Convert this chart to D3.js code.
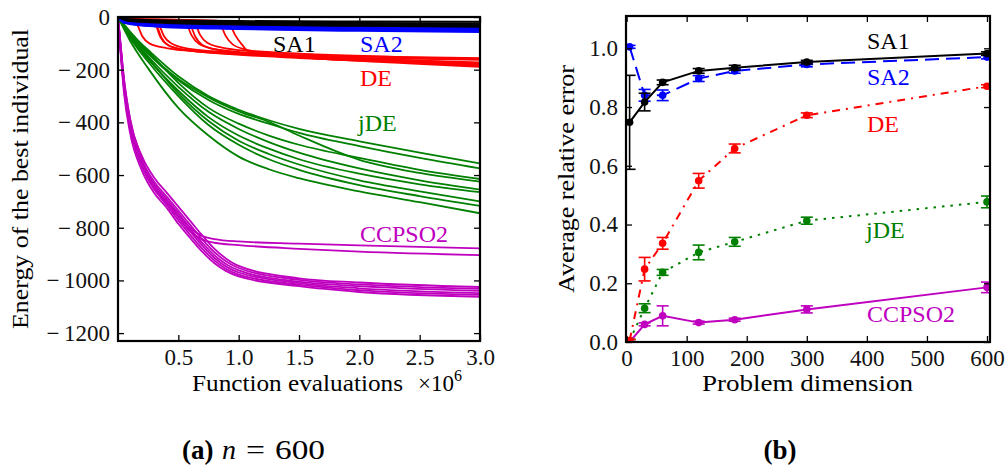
<!DOCTYPE html>
<html>
<head>
<meta charset="utf-8">
<script src="https://cdn.jsdelivr.net/npm/d3@7"></script>
<style>
  body { margin: 0; background: white; }
  svg text { font-family: "Liberation Serif", "DejaVu Serif", serif; }
</style>
</head>
<body>
<div id="chart"></div>
<script>
// ---------- panel (a): convergence runs, x in 10^6 evaluations ----------
const sa1Runs = [
  [[0,0],[0.1,-8],[0.5,-13],[1,-15],[2,-17],[3,-18]],
  [[0,0],[0.1,-10],[0.5,-16],[1,-19],[2,-22],[3,-24]],
  [[0,0],[0.1,-12],[0.5,-18],[1,-22],[2,-26],[3,-28]],
  [[0,0],[0.1,-13],[0.5,-20],[1,-25],[2,-29],[3,-31]],
  [[0,0],[0.1,-15],[0.5,-22],[1,-27],[2,-32],[3,-35]],
  [[0,0],[0.1,-16],[0.5,-24],[1,-29],[2,-34],[3,-37]]
];
const sa2Runs = [
  [[0,0],[0.05,-17],[0.3,-26],[1,-32],[2,-36],[3,-39]],
  [[0,0],[0.05,-18],[0.3,-28],[1,-35],[2,-40],[3,-43]],
  [[0,0],[0.05,-19],[0.3,-30],[1,-38],[2,-43],[3,-47]],
  [[0,0],[0.05,-20],[0.3,-32],[1,-41],[2,-47],[3,-51]],
  [[0,0],[0.05,-21],[0.3,-34],[1,-44],[2,-50],[3,-54]],
  [[0,0],[0.05,-22],[0.3,-36],[1,-46],[2,-53],[3,-57]]
];
const deRuns = [
  [[0,0],[0.05,-10],[0.13,-16],[0.16,-30],[0.2,-72],[0.26,-100],[0.4,-118],[0.7,-132],[1.2,-145],[2,-155],[3,-163]],
  [[0,0],[0.05,-9],[0.28,-16],[0.31,-28],[0.35,-75],[0.41,-105],[0.55,-124],[0.9,-138],[1.5,-152],[2.2,-162],[3,-172]],
  [[0,0],[0.05,-11],[0.29,-18],[0.32,-32],[0.36,-78],[0.42,-108],[0.56,-126],[0.9,-140],[1.5,-156],[2.2,-168],[3,-180]],
  [[0,0],[0.05,-8],[0.31,-15],[0.34,-30],[0.38,-72],[0.44,-100],[0.58,-120],[0.9,-133],[1.5,-145],[2.2,-152],[3,-158]],
  [[0,0],[0.05,-7],[0.54,-14],[0.57,-28],[0.61,-70],[0.67,-102],[0.8,-122],[1.1,-136],[1.6,-150],[2.3,-162],[3,-176]],
  [[0,0],[0.05,-8],[0.57,-15],[0.6,-30],[0.64,-74],[0.7,-106],[0.84,-126],[1.1,-140],[1.6,-156],[2.3,-170],[3,-185]],
  [[0,0],[0.05,-6],[0.61,-13],[0.64,-26],[0.68,-68],[0.74,-98],[0.88,-118],[1.2,-132],[1.7,-143],[2.3,-151],[3,-156]],
  [[0,0],[0.05,-7],[0.82,-14],[0.85,-28],[0.89,-70],[0.95,-104],[1.08,-126],[1.3,-140],[1.8,-155],[2.4,-168],[3,-181]],
  [[0,0],[0.05,-9],[0.9,-16],[0.93,-30],[0.97,-68],[1.03,-106],[1.08,-130],[1.3,-145],[1.8,-162],[2.4,-176],[3,-189]]
];
const jdeRuns = [
  [[0,0],[0.1,-60],[0.25,-125],[0.5,-225],[0.75,-300],[1.0,-352],[1.25,-392],[1.5,-425],[2.0,-472],[2.5,-515],[3.0,-556]],
  [[0,0],[0.1,-65],[0.25,-140],[0.5,-240],[0.75,-315],[1.0,-368],[1.25,-405],[1.5,-440],[2.0,-490],[2.5,-535],[3.0,-575]],
  [[0,0],[0.1,-55],[0.25,-130],[0.5,-250],[0.75,-345],[1.0,-405],[1.25,-450],[1.5,-485],[2.0,-535],[2.5,-580],[3.0,-615]],
  [[0,0],[0.1,-60],[0.25,-135],[0.5,-235],[0.75,-305],[1.0,-358],[1.25,-398],[1.5,-450],[2.0,-542],[2.5,-592],[3.0,-625]],
  [[0,0],[0.1,-70],[0.25,-150],[0.5,-265],[0.75,-360],[1.0,-425],[1.25,-475],[1.5,-515],[2.0,-575],[2.5,-620],[3.0,-655]],
  [[0,0],[0.1,-75],[0.25,-160],[0.5,-280],[0.75,-380],[1.0,-450],[1.25,-500],[1.5,-540],[2.0,-595],[2.5,-635],[3.0,-665]],
  [[0,0],[0.1,-70],[0.25,-155],[0.5,-290],[0.75,-395],[1.0,-470],[1.25,-520],[1.5,-560],[2.0,-620],[2.5,-662],[3.0,-700]],
  [[0,0],[0.1,-80],[0.25,-170],[0.5,-300],[0.75,-410],[1.0,-485],[1.25,-540],[1.5,-580],[2.0,-638],[2.5,-680],[3.0,-717]],
  [[0,0],[0.1,-90],[0.25,-195],[0.5,-345],[0.75,-450],[1.0,-530],[1.25,-578],[1.5,-612],[2.0,-662],[2.5,-703],[3.0,-745]]
];
const ccpso2Runs = [
  [[0,0],[0.02,-110],[0.05,-260],[0.1,-410],[0.2,-555],[0.3,-635],[0.4,-690],[0.5,-745],[0.6,-800],[0.7,-832],[0.8,-843],[1.0,-852],[1.5,-860],[2.0,-867],[3.0,-878]],
  [[0,0],[0.02,-118],[0.05,-270],[0.1,-420],[0.2,-565],[0.3,-648],[0.4,-703],[0.5,-760],[0.6,-815],[0.7,-845],[0.8,-857],[1.0,-866],[1.5,-880],[2.0,-891],[3.0,-904]],
  [[0,0],[0.02,-100],[0.05,-240],[0.1,-390],[0.2,-530],[0.3,-610],[0.4,-665],[0.5,-720],[0.6,-775],[0.7,-830],[0.8,-880],[1.0,-945],[1.5,-992],[2.0,-1008],[3.0,-1025]],
  [[0,0],[0.02,-110],[0.05,-255],[0.1,-405],[0.2,-545],[0.3,-625],[0.4,-680],[0.5,-735],[0.6,-790],[0.7,-845],[0.8,-893],[1.0,-953],[1.5,-998],[2.0,-1015],[3.0,-1032]],
  [[0,0],[0.02,-105],[0.05,-250],[0.1,-400],[0.2,-555],[0.3,-640],[0.4,-695],[0.5,-750],[0.6,-805],[0.7,-858],[0.8,-905],[1.0,-962],[1.5,-1005],[2.0,-1022],[3.0,-1040]],
  [[0,0],[0.02,-120],[0.05,-275],[0.1,-425],[0.2,-570],[0.3,-655],[0.4,-705],[0.5,-760],[0.6,-815],[0.7,-868],[0.8,-915],[1.0,-970],[1.5,-1010],[2.0,-1030],[3.0,-1048]],
  [[0,0],[0.02,-95],[0.05,-235],[0.1,-385],[0.2,-540],[0.3,-650],[0.4,-712],[0.5,-772],[0.6,-828],[0.7,-880],[0.8,-925],[1.0,-978],[1.5,-1016],[2.0,-1037],[3.0,-1055]],
  [[0,0],[0.02,-125],[0.05,-290],[0.1,-440],[0.2,-585],[0.3,-668],[0.4,-722],[0.5,-785],[0.6,-840],[0.7,-892],[0.8,-935],[1.0,-985],[1.5,-1022],[2.0,-1044],[3.0,-1062]]
];
const leftXTicks = [0.5, 1.0, 1.5, 2.0, 2.5, 3.0];
const leftYTicks = [0, -200, -400, -600, -800, -1000, -1200];

// ---------- panel (b): average relative error vs problem dimension ----------
const dims = [5, 30, 60, 120, 180, 300, 600];
const sa1Err = [0.748, 0.817, 0.884, 0.923, 0.934, 0.953, 0.982];
const sa1Sd = [0.16, 0.03, 0.008, 0.008, 0.008, 0.006, 0.006];
const sa2Err = [1.005, 0.84, 0.84, 0.897, 0.923, 0.945, 0.970];
const sa2Sd = [0.005, 0.02, 0.018, 0.01, 0.008, 0.008, 0.006];
const deErr = [0.005, 0.248, 0.336, 0.549, 0.659, 0.772, 0.871];
const deSd = [0.004, 0.04, 0.02, 0.025, 0.015, 0.008, 0.005];
const jdeErr = [0.005, 0.115, 0.237, 0.305, 0.341, 0.413, 0.477];
const jdeSd = [0.004, 0.015, 0.01, 0.025, 0.015, 0.012, 0.02];
const ccErr = [0.0, 0.060, 0.089, 0.066, 0.076, 0.111, 0.186];
const ccSd = [0.002, 0.005, 0.034, 0.005, 0.005, 0.012, 0.018];
const rightXTicks = [0, 100, 200, 300, 400, 500, 600];
const rightYTicks = [0, 0.2, 0.4, 0.6, 0.8, 1.0];

const w = 1005;
const h = 468;
const svg = d3.select("#chart").append("svg")
  .attr("width", w).attr("height", h)
  .style("background", "white");

function frameAxes(g, x, y, xTicks, yTicks, xFmt, yFmt) {
  const [x0, x1] = x.range();
  const [y0, y1] = y.range();
  const styleAxis = sel => {
    sel.select(".domain").remove();
    sel.selectAll("line").attr("stroke", "#000").attr("stroke-width", 1.3);
    sel.selectAll("text").attr("fill", "#111").style("font-size", "23px")
      .style("font-family", '"Liberation Serif", serif');
  };
  g.append("g").attr("transform", `translate(0,${y0})`)
    .call(d3.axisBottom(x).tickValues(xTicks).tickFormat(xFmt).tickSizeInner(-6).tickSizeOuter(0).tickPadding(8))
    .call(styleAxis);
  g.append("g").attr("transform", `translate(0,${y1})`)
    .call(d3.axisTop(x).tickValues(xTicks).tickFormat("").tickSizeInner(-6).tickSizeOuter(0))
    .call(styleAxis);
  g.append("g").attr("transform", `translate(${x0},0)`)
    .call(d3.axisLeft(y).tickValues(yTicks).tickFormat(yFmt).tickSizeInner(-6).tickSizeOuter(0).tickPadding(8))
    .call(styleAxis);
  g.append("g").attr("transform", `translate(${x1},0)`)
    .call(d3.axisRight(y).tickValues(yTicks).tickFormat("").tickSizeInner(-6).tickSizeOuter(0))
    .call(styleAxis);
  g.append("rect")
    .attr("x", x0).attr("y", y1)
    .attr("width", x1 - x0).attr("height", y0 - y1)
    .attr("fill", "none").attr("stroke", "#000").attr("stroke-width", 2.2);
}

// ---------- panel (a) ----------
const xA = d3.scaleLinear().domain([0, 3]).range([118, 480]);
const yA = d3.scaleLinear().domain([-1230, 0]).range([341, 17]);

svg.append("clipPath").attr("id", "clipA")
  .append("rect").attr("x", 118).attr("y", 17).attr("width", 362).attr("height", 324);

const lineA = d3.line().x(d => xA(d[0])).y(d => yA(d[1])).curve(d3.curveMonotoneX);
const gA = svg.append("g").attr("clip-path", "url(#clipA)");

const groupsA = [
  {runs: ccpso2Runs, color: "#bf00bf"},
  {runs: jdeRuns, color: "#008000"},
  {runs: deRuns, color: "#ff0000"},
  {runs: sa2Runs, color: "#0000ff"},
  {runs: sa1Runs, color: "#000000"}
];
groupsA.forEach(grp => {
  gA.selectAll(null).data(grp.runs).enter().append("path")
    .attr("d", lineA)
    .attr("fill", "none")
    .attr("stroke", grp.color)
    .attr("stroke-width", 1.8);
});

const minusFmt = d => d < 0 ? "\u2212\u2009" + Math.abs(d) : String(d);
frameAxes(svg.append("g"), xA, yA, leftXTicks, leftYTicks, d3.format(".1f"), minusFmt);

const labelsA = [
  {t: "SA1", x: 273, y: 52, c: "#000"},
  {t: "SA2", x: 360, y: 52, c: "#0000ff"},
  {t: "DE", x: 360, y: 86, c: "#ff0000"},
  {t: "jDE", x: 358, y: 131, c: "#008000"},
  {t: "CCPSO2", x: 360, y: 242, c: "#bf00bf"}
];
svg.selectAll(null).data(labelsA).enter().append("text")
  .attr("x", d => d.x).attr("y", d => d.y)
  .attr("fill", d => d.c)
  .style("font-size", "24px")
  .text(d => d.t);

svg.append("text")
  .attr("transform", "translate(28,179) rotate(-90)")
  .attr("text-anchor", "middle")
  .attr("textLength", 300).attr("lengthAdjust", "spacingAndGlyphs")
  .style("font-size", "23px")
  .text("Energy of the best individual");

svg.append("text")
  .attr("x", 192).attr("y", 391)
  .attr("textLength", 211).attr("lengthAdjust", "spacingAndGlyphs")
  .style("font-size", "23px")
  .text("Function evaluations");
const xMul = svg.append("text")
  .attr("x", 418).attr("y", 391)
  .style("font-size", "23px");
xMul.append("tspan").text("×10");
xMul.append("tspan").attr("dy", -10).style("font-size", "16px").text("6");

// ---------- panel (b) ----------
const xB = d3.scaleLinear().domain([-1, 605]).range([626, 990]);
const yB = d3.scaleLinear().domain([0, 1.11]).range([342, 16]);

svg.append("clipPath").attr("id", "clipB")
  .append("rect").attr("x", 626).attr("y", 16).attr("width", 364).attr("height", 326);

const seriesB = [
  {vals: sa1Err, sd: sa1Sd, color: "#000000", dash: null},
  {vals: sa2Err, sd: sa2Sd, color: "#0000ff", dash: "14,7"},
  {vals: deErr, sd: deSd, color: "#ff0000", dash: "8,6,2,6"},
  {vals: jdeErr, sd: jdeSd, color: "#008000", dash: "2.5,6"},
  {vals: ccErr, sd: ccSd, color: "#bf00bf", dash: null}
];
const lineB = d3.line().x(d => xB(d[0])).y(d => yB(d[1]));
const gB = svg.append("g").attr("clip-path", "url(#clipB)");

seriesB.slice().reverse().forEach(s => {
  const pts = dims.map((d, i) => [d, s.vals[i], s.sd[i]]);
  gB.append("path")
    .attr("d", lineB(pts))
    .attr("fill", "none")
    .attr("stroke", s.color)
    .attr("stroke-width", 2)
    .attr("stroke-dasharray", s.dash);
  const eb = gB.selectAll(null).data(pts).enter().append("g").attr("stroke", s.color).attr("stroke-width", 1.6);
  eb.append("line")
    .attr("x1", d => xB(d[0])).attr("x2", d => xB(d[0]))
    .attr("y1", d => yB(d[1] - d[2])).attr("y2", d => yB(d[1] + d[2]));
  eb.append("line")
    .attr("x1", d => xB(d[0]) - 6).attr("x2", d => xB(d[0]) + 6)
    .attr("y1", d => yB(d[1] - d[2])).attr("y2", d => yB(d[1] - d[2]));
  eb.append("line")
    .attr("x1", d => xB(d[0]) - 6).attr("x2", d => xB(d[0]) + 6)
    .attr("y1", d => yB(d[1] + d[2])).attr("y2", d => yB(d[1] + d[2]));
  gB.selectAll(null).data(pts).enter().append("circle")
    .attr("cx", d => xB(d[0])).attr("cy", d => yB(d[1]))
    .attr("r", 3.8)
    .attr("fill", s.color);
});

frameAxes(svg.append("g"), xB, yB, rightXTicks, rightYTicks, d3.format("d"), d3.format(".1f"));

const labelsB = [
  {t: "SA1", x: 867, y: 49, c: "#000"},
  {t: "SA2", x: 867, y: 85, c: "#0000ff"},
  {t: "DE", x: 867, y: 132, c: "#ff0000"},
  {t: "jDE", x: 866, y: 238, c: "#008000"},
  {t: "CCPSO2", x: 867, y: 322, c: "#bf00bf"}
];
svg.selectAll(null).data(labelsB).enter().append("text")
  .attr("x", d => d.x).attr("y", d => d.y)
  .attr("fill", d => d.c)
  .style("font-size", "24px")
  .text(d => d.t);

svg.append("text")
  .attr("transform", "translate(574,179) rotate(-90)")
  .attr("text-anchor", "middle")
  .attr("textLength", 228).attr("lengthAdjust", "spacingAndGlyphs")
  .style("font-size", "23px")
  .text("Average relative error");

svg.append("text")
  .attr("x", 702).attr("y", 391)
  .attr("textLength", 211).attr("lengthAdjust", "spacingAndGlyphs")
  .style("font-size", "23px")
  .text("Problem dimension");

// ---------- captions ----------
svg.append("text").attr("x", 182).attr("y", 459)
  .style("font-size", "27px").style("font-weight", "bold").text("(a)");
svg.append("text").attr("x", 222).attr("y", 459)
  .style("font-size", "28px").style("font-style", "italic").text("n");
svg.append("text").attr("x", 246).attr("y", 459)
  .attr("textLength", 19).attr("lengthAdjust", "spacingAndGlyphs")
  .style("font-size", "28px").text("=");
svg.append("text").attr("x", 275).attr("y", 459)
  .attr("textLength", 50).attr("lengthAdjust", "spacingAndGlyphs")
  .style("font-size", "28px").text("600");

svg.append("text").attr("x", 780).attr("y", 459)
  .attr("text-anchor", "middle")
  .style("font-size", "27px").style("font-weight", "bold")
  .text("(b)");
</script>
</body>
</html>
